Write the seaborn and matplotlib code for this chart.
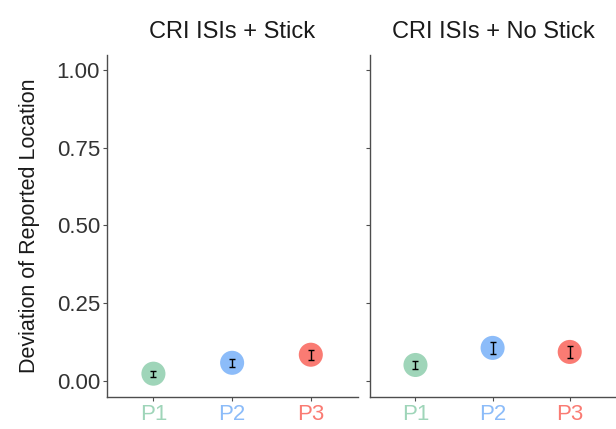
import matplotlib.pyplot as plt
import pandas as pd
import seaborn as sns

# Data
panels = ['CRI ISIs + Stick', 'CRI ISIs + No Stick']
participants = ['P1', 'P2', 'P3']
stick_mean = [0.023, 0.058, 0.084]
stick_err = [0.010, 0.013, 0.016]
nostick_mean = [0.051, 0.106, 0.093]
nostick_err = [0.013, 0.020, 0.018]
colors = ['#9fd5b9', '#8cbcf9', '#fa7b73']

df = pd.DataFrame({
    'panel': [panels[0]] * 3 + [panels[1]] * 3,
    'participant': participants * 2,
    'mean': stick_mean + nostick_mean,
    'err': stick_err + nostick_err,
})

sns.set_style('white')
plt.rcParams['font.family'] = ['Liberation Sans', 'DejaVu Sans']

fig = plt.figure(figsize=(6.16, 4.29), dpi=100, facecolor='white')
ax1 = fig.add_axes([0.1737, 0.0746, 0.4075, 0.797])
ax2 = fig.add_axes([0.6006, 0.0746, 0.3994, 0.797])

for ax, panel in zip([ax1, ax2], panels):
    sub = df[df['panel'] == panel]
    sns.scatterplot(data=sub, x='participant', y='mean', hue='participant',
                    palette=colors, s=300, edgecolor='none', legend=False,
                    ax=ax, zorder=2)
    ax.errorbar(range(len(sub)), sub['mean'], yerr=sub['err'], fmt='none',
                ecolor='black', elinewidth=1.0, capsize=2.5, capthick=1.0, zorder=3)
    ax.set_xlim(-0.59, 2.6)
    ax.set_ylim(-0.052, 1.048)
    ax.set_yticks([0, 0.25, 0.5, 0.75, 1.0])
    ax.set_xlabel('')
    ax.set_ylabel('')
    ax.set_title(panel, fontsize=17, color='#1a1a1a', pad=12)
    for side in ['top', 'right']:
        ax.spines[side].set_visible(False)
    for side in ['left', 'bottom']:
        ax.spines[side].set_color('#4d4d4d')
        ax.spines[side].set_linewidth(1.0)
    ax.tick_params(axis='both', which='both', direction='out', length=3,
                   width=0.8, color='#4d4d4d', left=True, bottom=True, pad=2)
    ax.tick_params(axis='x', labelsize=16)
    for lbl, c in zip(ax.get_xticklabels(), colors):
        lbl.set_color(c)

ax1.set_yticklabels(['0.00', '0.25', '0.50', '0.75', '1.00'], fontsize=16, color='#333333')
ax1.set_ylabel('Deviation of Reported Location', fontsize=15.5, color='#1a1a1a', labelpad=12)
ax2.tick_params(axis='y', labelleft=False)

fig.savefig('out.png', dpi=100, facecolor='white')
